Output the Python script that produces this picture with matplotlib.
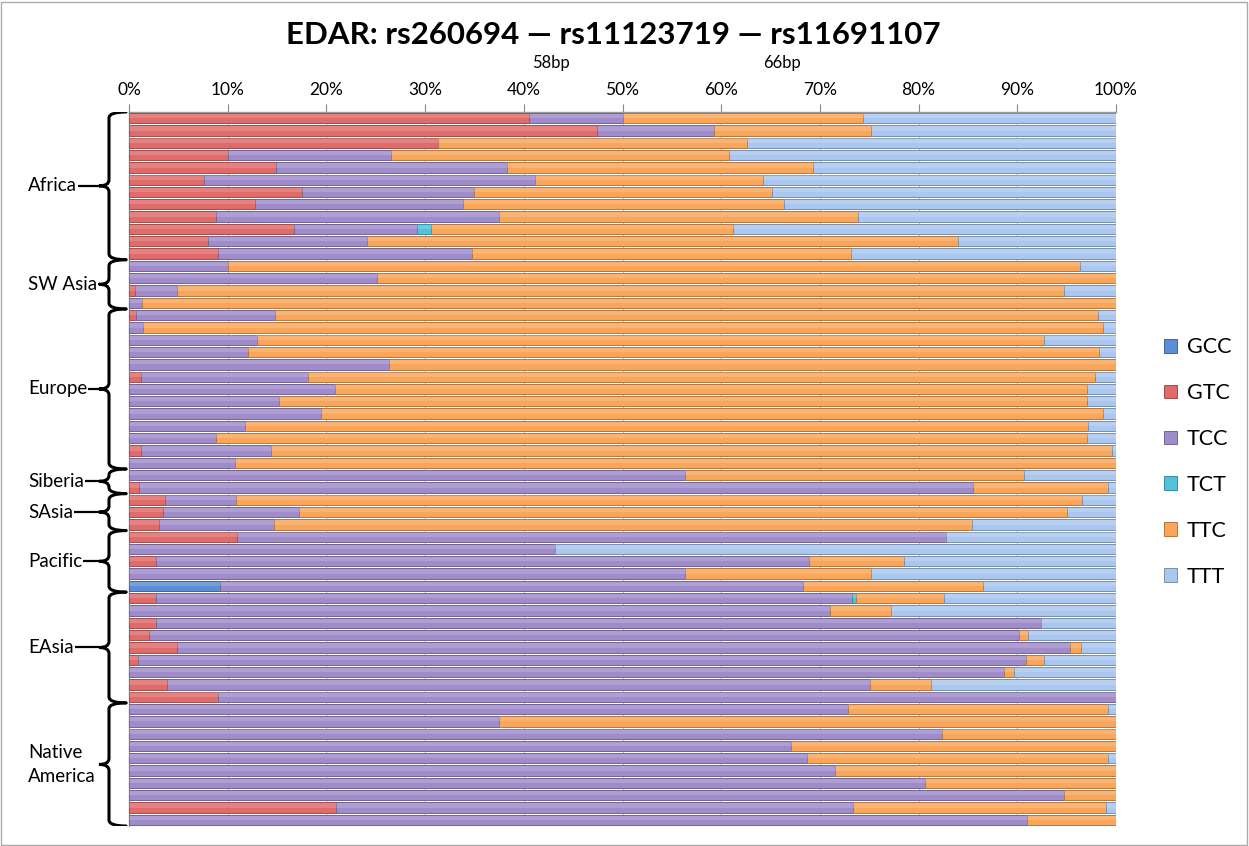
import matplotlib
matplotlib.use("Agg")
import matplotlib.pyplot as plt
from matplotlib.path import Path
from matplotlib.patches import PathPatch, Rectangle
import matplotlib.colors as mcolors
import numpy as np

plt.rcParams['font.family'] = ['Lato', 'DejaVu Sans']

# ---------------- data (percent of each population sample) ----------------
haplotypes = ["GCC", "GTC", "TCC", "TCT", "TTC", "TTT"]
colors = ["#5B8ED6", "#E06B6A", "#A08CCB", "#4EC3DA", "#F9A65A", "#AAC7EF"]

GCC = [0]*38 + [9.2] + [0]*19
GTC = [40.5, 47.4, 31.3, 10.0, 14.9, 7.6, 17.5, 12.8, 8.8, 16.7, 8.0, 9.0,
       0, 0, 0.6, 0,
       0.7, 0, 0, 0, 0, 1.2, 0, 0, 0, 0, 0, 1.2, 0,
       0, 1.0,
       3.6, 3.4, 3.0,
       10.9, 0, 2.7, 0, 0,
       2.7, 0, 2.7, 2.0, 4.9, 0.9, 0, 3.8, 9.0,
       0, 0, 0, 0, 0, 0, 0, 0, 21.0, 0]
TCC = [9.5, 11.9, 0, 16.5, 23.4, 33.5, 17.5, 21.0, 28.7, 12.5, 16.1, 25.8,
       10.0, 25.1, 4.3, 1.3,
       14.1, 1.4, 13.0, 12.1, 26.3, 16.9, 20.9, 15.2, 19.5, 11.8, 8.8, 13.2, 10.7,
       56.3, 84.5,
       7.2, 13.8, 11.7,
       71.9, 43.2, 66.2, 56.3, 59.1,
       70.6, 71.0, 89.7, 88.2, 90.4, 90.0, 88.7, 71.3, 91.0,
       72.8, 37.5, 82.4, 67.1, 68.7, 71.5, 80.6, 94.7, 52.4, 91.0]
TCT = [0]*9 + [1.4] + [0]*29 + [0.4] + [0]*18
TTC = [24.4, 15.9, 31.3, 34.3, 31.0, 23.1, 30.1, 32.6, 36.4, 30.6, 59.9, 38.4,
       86.4, 74.9, 89.8, 98.7,
       83.4, 97.3, 79.7, 86.2, 73.7, 79.8, 76.2, 81.9, 79.2, 85.4, 88.3, 85.2, 89.3,
       34.4, 13.7,
       85.8, 77.8, 70.7,
       0, 0, 9.6, 18.9, 18.2,
       8.9, 6.2, 0, 0.9, 1.2, 1.8, 1.0, 6.2, 0,
       26.4, 62.5, 17.6, 32.9, 30.5, 28.5, 19.4, 5.3, 25.6, 9.0]
TTT = [25.6, 24.8, 37.4, 39.2, 30.7, 35.8, 34.9, 33.6, 26.1, 38.8, 16.0, 26.8,
       3.6, 0, 5.3, 0,
       1.8, 1.3, 7.3, 1.7, 0, 2.1, 2.9, 2.9, 1.3, 2.8, 2.9, 0.4, 0,
       9.3, 0.8,
       3.4, 5.0, 14.6,
       17.2, 56.8, 21.5, 24.8, 13.5,
       17.4, 22.8, 7.6, 8.9, 3.5, 7.3, 10.3, 18.7, 0,
       0.8, 0, 0, 0, 0.8, 0, 0, 0, 1.0, 0]

regions = ["Africa", "SW Asia", "Europe", "Siberia", "SAsia", "Pacific", "EAsia", "Native\nAmerica"]
region_sizes = [12, 4, 13, 2, 3, 5, 9, 10]

tick_values = [0, 10, 20, 30, 40, 50, 60, 70, 80, 90, 100]
tick_labels = [f"{v}%" for v in tick_values]

title = "EDAR: rs260694 \u2014 rs11123719 \u2014 rs11691107"
gap_labels = ["58bp", "66bp"]

# ---------------- figure ----------------
W, H = 1249, 846
fig = plt.figure(figsize=(W/100, H/100), dpi=100)
fig.patch.set_facecolor("white")

L, R, T, B = 129, 1116, 112, 826
ax = fig.add_axes([L/W, 1 - B/H, (R-L)/W, (B-T)/H])

series = [GCC, GTC, TCC, TCT, TTC, TTT]
n = len(TCC)
y = np.arange(n)
left = np.zeros(n)
handles = []
for name, vals, c in zip(haplotypes, series, colors):
    vals = np.array(vals, dtype=float)
    dark = np.array(mcolors.to_rgb(c)) * 0.72
    h = ax.barh(y, vals, left=left, height=0.84, color=c, edgecolor=dark,
                linewidth=0.7, zorder=3, label=name)
    # soft highlight on upper part of each bar
    ax.barh(y - 0.17, vals, left=left, height=0.36, color="white", alpha=0.16,
            linewidth=0, zorder=4)
    handles.append(h)
    left = left + vals

ax.set_xlim(0, 100)
ax.set_ylim(n - 0.5, -0.5)
ax.xaxis.tick_top()
ax.set_xticks(tick_values)
ax.set_xticklabels(tick_labels, fontsize=12.5)
ax.tick_params(axis='x', direction='out', length=6, color="#888888", pad=4)
ax.set_yticks([])
ax.grid(axis='x', color="#BBBBBB", linewidth=0.8, zorder=0)
for s in ["bottom", "right"]:
    ax.spines[s].set_visible(False)
for s in ["top", "left"]:
    ax.spines[s].set_color("#999999")
    ax.spines[s].set_linewidth(1.0)

# ---------------- braces / region labels ----------------
axl = fig.add_axes([0, 1 - B/H, L/W, (B-T)/H])
axl.set_xlim(0, L)
axl.set_ylim(n - 0.5, -0.5)
axl.axis("off")

row_px = (B - T) / n
x_end, x_spine, x_tip = 126, 109, 99
start = 0
fig.canvas.draw()
renderer = fig.canvas.get_renderer()
for name, size in zip(regions, region_sizes):
    yt = start - 0.5
    yb = start + size - 0.5
    ym = (yt + yb) / 2
    d = min(6 / row_px, size / 4.2)
    verts = [(x_end, yt), (x_spine, yt), (x_spine, yt + d),
             (x_spine, ym - d),
             (x_spine, ym), (x_tip, ym),
             (x_spine, ym), (x_spine, ym + d),
             (x_spine, yb - d),
             (x_spine, yb), (x_end, yb)]
    codes = [Path.MOVETO, Path.CURVE3, Path.CURVE3, Path.LINETO,
             Path.CURVE3, Path.CURVE3, Path.CURVE3, Path.CURVE3,
             Path.LINETO, Path.CURVE3, Path.CURVE3]
    axl.add_patch(PathPatch(Path(verts, codes), facecolor="none",
                            edgecolor="black", linewidth=2.2, capstyle="round"))
    t = axl.text(28, ym, name, ha="left", va="center", fontsize=13.5,
                 linespacing=1.45)
    if "\n" not in name:
        bb = t.get_window_extent(renderer=renderer)
        x_text_end = axl.transData.inverted().transform((bb.x1, 0))[0]
        axl.plot([x_text_end + 1, x_tip], [ym, ym], color="black",
                 linewidth=1.6, solid_capstyle="butt")
    start += size

# ---------------- title & annotations ----------------
fig.text(613/W, 1 - 35/H, title, ha="center", va="center",
         fontsize=22.5, fontweight="bold")
fig.text(551/W, 1 - 63/H, gap_labels[0], ha="center", va="center", fontsize=12)
fig.text(782/W, 1 - 63/H, gap_labels[1], ha="center", va="center", fontsize=12)

# ---------------- legend ----------------
fig.legend(handles=handles, labels=haplotypes, loc="upper left",
           bbox_to_anchor=(1145/W, 1 - 318/H), frameon=False,
           fontsize=15.5, handlelength=0.6, handleheight=0.6,
           handletextpad=0.45, labelspacing=1.2)

# figure border
fig.add_artist(Rectangle((1/W, 1/H), 1 - 3/W, 1 - 3/H, transform=fig.transFigure,
                         fill=False, edgecolor="#AAAAAA", linewidth=1.0))

fig.savefig("out.png", dpi=100)
